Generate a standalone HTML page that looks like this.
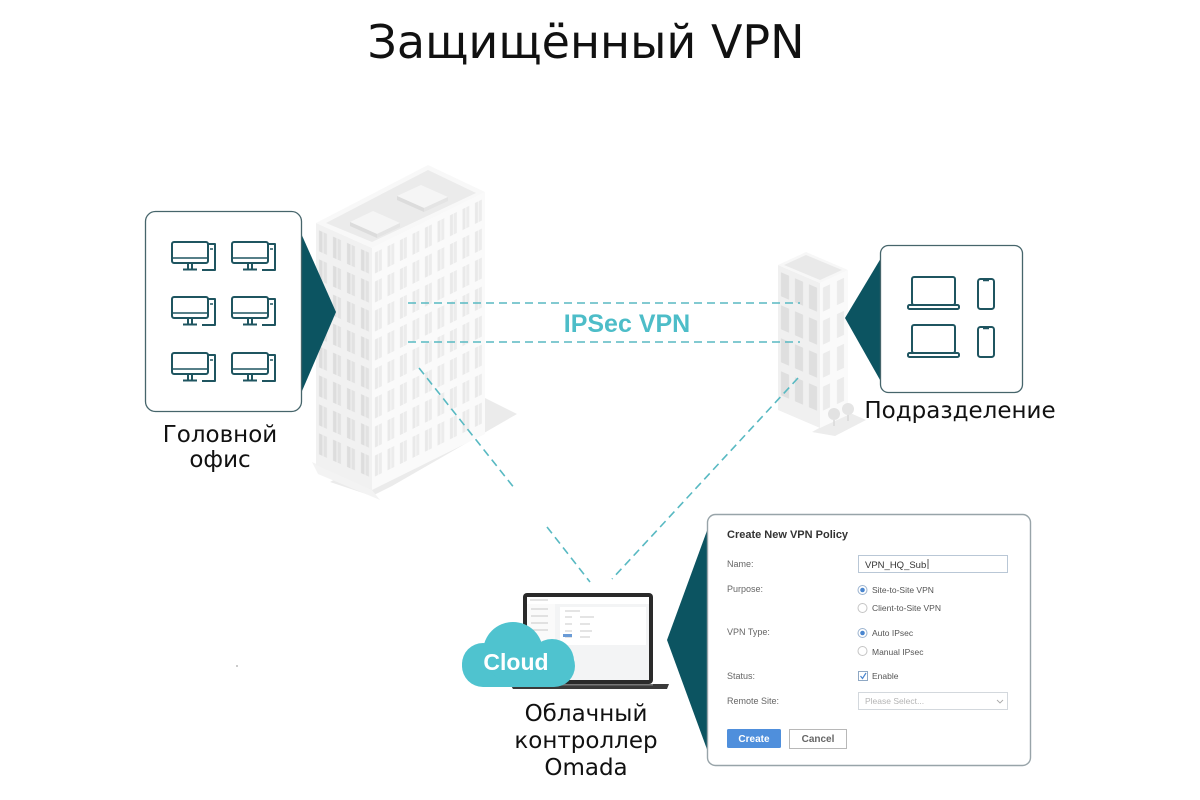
<!DOCTYPE html>
<html><head><meta charset="utf-8"><style>
html,body{margin:0;padding:0;background:#fff;}
svg{display:block;}
</style></head><body>
<svg width="1200" height="800" viewBox="0 0 1200 800" xmlns="http://www.w3.org/2000/svg">
<defs>
  <pattern id="lw" width="14" height="29" patternUnits="userSpaceOnUse">
    <rect x="3" y="6" width="3.5" height="21" fill="#dddddd"/>
    <rect x="7.5" y="6" width="3.5" height="21" fill="#e2e2e2"/>
  </pattern>
  <pattern id="rw" width="12.5" height="29" patternUnits="userSpaceOnUse">
    <rect x="3" y="6" width="3" height="21" fill="#e9e9e9"/>
    <rect x="6.8" y="6" width="3" height="21" fill="#ececec"/>
  </pattern>
  <pattern id="slw" width="14" height="33" patternUnits="userSpaceOnUse">
    <rect x="3" y="6" width="8" height="24" fill="#dfdfdf"/>
  </pattern>
  <pattern id="srw" width="14" height="33" patternUnits="userSpaceOnUse">
    <rect x="3" y="6" width="7" height="24" fill="#ebebeb"/>
  </pattern>
  <g id="mon" fill="none" stroke="#1f5560" stroke-width="2" stroke-linejoin="round">
    <path d="M36,2 H43 V28 H30"/>
    <path d="M38,7 H41" stroke-width="1.5"/>
    <rect x="0" y="0" width="36" height="21" rx="2" fill="#fff"/>
    <path d="M1,16 H35" stroke-width="1.5"/>
    <path d="M16,21 V27 M20,21 V27 M11,27.5 H25"/>
  </g>
  <g id="lap" fill="none" stroke="#1f5560" stroke-width="2" stroke-linejoin="round">
    <rect x="4" y="0" width="43" height="28" rx="2"/>
    <rect x="0" y="28" width="51" height="4" rx="1.5"/>
  </g>
  <g id="ph" fill="none" stroke="#1f5560" stroke-width="2">
    <rect x="0" y="0" width="16" height="30" rx="2.5"/>
    <path d="M5,1.5 H11" stroke-width="1.5"/>
  </g>
</defs>

<!-- Title -->
<text x="586" y="58" font-family="'DejaVu Sans','Liberation Sans',sans-serif" font-size="46" text-anchor="middle" fill="#111">Защищённый VPN</text>

<!-- Big building ground shadow -->
<polygon points="485,398 517,414 392,486 372,496 330,482" fill="#ebebeb"/>
<polygon points="312,462 372,490 380,500 318,474" fill="#f3f3f3"/>
<!-- Big building left face -->
<g transform="translate(316,223) skewY(24.06)">
  <rect x="0" y="0" width="56" height="242" fill="#f1f1f1"/>
  <rect x="0" y="2" width="56" height="232" fill="url(#lw)"/>
</g>
<!-- Big building right face -->
<g transform="translate(372,248) skewY(-26.36)">
  <rect x="0" y="0" width="113" height="242" fill="#fafafa"/>
  <rect x="0" y="2" width="113" height="232" fill="url(#rw)"/>
</g>
<!-- Roof -->
<polygon points="316,223 428,165 485,192 372,248" fill="#f8f8f8"/>
<polygon points="326,223 428,170 476,193 372,242" fill="#ebebeb"/>
<!-- roof boxes -->
<polygon points="350,222 373,211 400,223 377,234" fill="#f5f5f5"/>
<polygon points="350,222 377,234 377,238 350,226" fill="#dcdcdc"/>
<polygon points="377,234 400,223 400,227 377,238" fill="#e4e4e4"/>
<polygon points="397,196 421,185 448,197 424,208" fill="#f5f5f5"/>
<polygon points="397,196 424,208 424,212 397,200" fill="#dcdcdc"/>
<polygon points="424,208 448,197 448,201 424,212" fill="#e4e4e4"/>

<!-- Small building -->
<polygon points="848,412 866,420 835,436 812,432" fill="#ececec"/>
<g transform="translate(778,265) skewY(23.2)">
  <rect x="0" y="0" width="42" height="145" fill="#f0f0f0"/>
  <rect x="0" y="0" width="42" height="132" fill="url(#slw)"/>
</g>
<g transform="translate(820,283) skewY(-24.9)">
  <rect x="0" y="0" width="28" height="145" fill="#fafafa"/>
  <rect x="0" y="0" width="28" height="132" fill="url(#srw)"/>
</g>
<polygon points="778,265 806,252 848,270 820,283" fill="#f7f7f7"/>
<polygon points="784,265 806,255 842,270 820,280" fill="#e9e9e9"/>
<circle cx="834" cy="414" r="6" fill="#e2e2e2"/>
<circle cx="848" cy="409" r="6" fill="#e5e5e5"/>
<path d="M834,420 V426 M848,415 V421" stroke="#d8d8d8" stroke-width="1.5"/>

<!-- Dashed connectors -->
<g stroke="#58b9c2" stroke-width="1.6" fill="none" stroke-dasharray="8 5">
  <path d="M408,303 H800"/>
  <path d="M408,342 H800"/>
  <path d="M419,368 L515,489"/>
  <path d="M547,527 L590,582"/>
  <path d="M798,378 L612,579"/>
</g>
<text x="627" y="332" font-family="'Liberation Sans',sans-serif" font-size="25" font-weight="bold" text-anchor="middle" fill="#4dbdc8">IPSec VPN</text>

<!-- Left panel -->
<polygon points="296,222 336,312 296,405" fill="#0c5461"/>
<rect x="145.5" y="211.5" width="156" height="200" rx="10" fill="#fff" stroke="#46656b" stroke-width="1.3"/>
<use href="#mon" x="172" y="242"/>
<use href="#mon" x="232" y="242"/>
<use href="#mon" x="172" y="297"/>
<use href="#mon" x="232" y="297"/>
<use href="#mon" x="172" y="353"/>
<use href="#mon" x="232" y="353"/>
<text x="220" y="442" font-family="'DejaVu Sans','Liberation Sans',sans-serif" font-size="23" text-anchor="middle" fill="#111">Головной</text>
<text x="220" y="467" font-family="'DejaVu Sans','Liberation Sans',sans-serif" font-size="23" text-anchor="middle" fill="#111">офис</text>

<!-- Right panel -->
<polygon points="884,253 845,318 884,387" fill="#0c5461"/>
<rect x="880.5" y="245.5" width="142" height="147" rx="8" fill="#fff" stroke="#46656b" stroke-width="1.3"/>
<use href="#lap" x="908" y="277"/>
<use href="#lap" x="908" y="325"/>
<use href="#ph" x="978" y="279"/>
<use href="#ph" x="978" y="327"/>
<text x="960" y="418" font-family="'DejaVu Sans','Liberation Sans',sans-serif" font-size="23" text-anchor="middle" fill="#111">Подразделение</text>

<!-- Laptop -->
<rect x="523" y="593" width="130" height="91" rx="4" fill="#2a2a2a"/>
<rect x="527" y="597" width="122" height="83" fill="#f3f4f5"/>
<rect x="527" y="597" width="122" height="7" fill="#fff"/>
<rect x="527" y="604" width="28" height="76" fill="#fafafa"/>
<rect x="560" y="607" width="86" height="38" fill="#fff"/>
<g stroke="#c8c8c8" stroke-width="1">
  <path d="M530,600 H548 M531,609 H548 M531,616 H548 M531,623 H548 M531,630 H548"/>
  <path d="M565,611 H580 M565,617 H572 M580,617 H594 M565,624 H572 M580,624 H590 M565,631 H572 M580,631 H592 M565,637 H572 M580,637 H590"/>
</g>
<rect x="563" y="634" width="9" height="3" fill="#6a9bd6"/>
<polygon points="510,684 669,684 667,689 513,689" fill="#3a3a3a"/>
<rect x="523" y="684" width="130" height="1.5" fill="#777"/>
<!-- Cloud -->
<g fill="#4fc3cf">
  <rect x="462" y="645" width="113" height="42" rx="21"/>
  <circle cx="483" cy="664" r="21"/>
  <circle cx="513" cy="652" r="30"/>
  <circle cx="552" cy="661" r="22"/>
</g>
<text x="516" y="670" font-family="'Liberation Sans',sans-serif" font-size="23" font-weight="bold" text-anchor="middle" fill="#fff">Cloud</text>
<text x="586" y="721" font-family="'DejaVu Sans','Liberation Sans',sans-serif" font-size="23" text-anchor="middle" fill="#111">Облачный</text>
<text x="586" y="748" font-family="'DejaVu Sans','Liberation Sans',sans-serif" font-size="23" text-anchor="middle" fill="#111">контроллер</text>
<text x="586" y="775" font-family="'DejaVu Sans','Liberation Sans',sans-serif" font-size="23" text-anchor="middle" fill="#111">Omada</text>
<circle cx="237" cy="666" r="1" fill="#bbb"/>

<!-- Form panel -->
<polygon points="712,517 667,640 712,763" fill="#0c5461"/>
<rect x="707.5" y="514.5" width="323" height="251" rx="8" fill="#fff" stroke="#98a4a9" stroke-width="1.4"/>
<g font-family="'Liberation Sans',sans-serif">
  <text x="727" y="538" font-size="11" font-weight="bold" fill="#333">Create New VPN Policy</text>
  <g font-size="9" fill="#666">
    <text x="727" y="567">Name:</text>
    <text x="727" y="592">Purpose:</text>
    <text x="727" y="635">VPN Type:</text>
    <text x="727" y="679">Status:</text>
    <text x="727" y="704">Remote Site:</text>
  </g>
  <rect x="858.5" y="555.5" width="149" height="17" fill="#fff" stroke="#b9c7d6"/>
  <text x="865" y="568" font-size="9.5" fill="#333">VPN_HQ_Sub</text>
  <path d="M928,559 V569" stroke="#333" stroke-width="0.8"/>
  <circle cx="862.5" cy="590" r="4.5" fill="#fff" stroke="#9bb3cf"/>
  <circle cx="862.5" cy="590" r="2.3" fill="#4a86cf"/>
  <circle cx="862.5" cy="608" r="4.5" fill="#fff" stroke="#c4c4c4"/>
  <circle cx="862.5" cy="633" r="4.5" fill="#fff" stroke="#9bb3cf"/>
  <circle cx="862.5" cy="633" r="2.3" fill="#4a86cf"/>
  <circle cx="862.5" cy="651" r="4.5" fill="#fff" stroke="#c4c4c4"/>
  <g font-size="8.5" fill="#555">
    <text x="872" y="593">Site-to-Site VPN</text>
    <text x="872" y="611">Client-to-Site VPN</text>
    <text x="872" y="636">Auto IPsec</text>
    <text x="872" y="655">Manual IPsec</text>
    <text x="872" y="679">Enable</text>
  </g>
  <rect x="858.5" y="671.5" width="9" height="9" fill="#fff" stroke="#8fa8c4"/>
  <path d="M860.5,676 L862.5,678.5 L866,673" fill="none" stroke="#4a86cf" stroke-width="1.2"/>
  <rect x="858.5" y="692.5" width="149" height="17" fill="#fff" stroke="#d3d8dd"/>
  <text x="865" y="704" font-size="8.5" fill="#b4b4b4">Please Select...</text>
  <path d="M997,700 L1000,703 L1003,700" fill="none" stroke="#aaa" stroke-width="0.9"/>
  <rect x="727" y="729" width="54" height="19" rx="1.5" fill="#4f8fdc"/>
  <text x="754" y="742" font-size="10" font-weight="bold" text-anchor="middle" fill="#fff">Create</text>
  <rect x="789.5" y="729.5" width="57" height="19" fill="#fff" stroke="#b8b8b8"/>
  <text x="818" y="742" font-size="10" font-weight="bold" text-anchor="middle" fill="#666">Cancel</text>
</g>
</svg>
</body></html>
